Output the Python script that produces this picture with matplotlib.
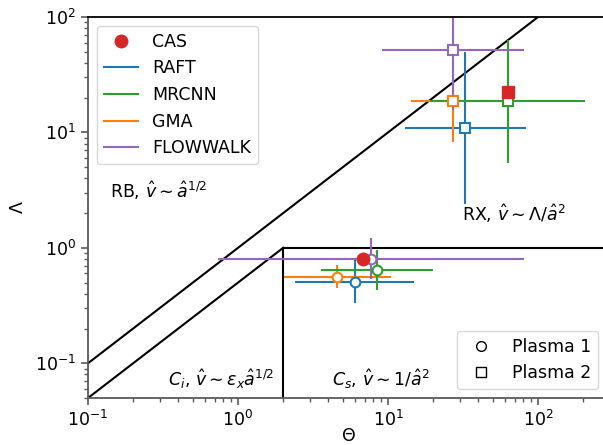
import numpy as np
import matplotlib
matplotlib.use("Agg")
import matplotlib.pyplot as plt
from matplotlib.lines import Line2D

plt.rcParams['font.family'] = ['DejaVu Sans']
plt.rcParams['mathtext.fontset'] = 'dejavusans'
FS = 12.5

models = ["RAFT", "MRCNN", "GMA", "FLOWWALK"]
colors = {"RAFT": "#1f77b4", "MRCNN": "#2ca02c", "GMA": "#ff7f0e", "FLOWWALK": "#9467bd"}

# Plasma 1 (circles): value, lower bound, upper bound
p1_theta    = [6.0, 8.4, 4.57, 7.7]
p1_theta_lo = [2.4, 3.6, 2.03, 0.74]
p1_theta_hi = [14.9, 20.0, 10.5, 80.7]
p1_lam      = [0.51, 0.64, 0.56, 0.80]
p1_lam_lo   = [0.33, 0.43, 0.45, 0.54]
p1_lam_hi   = [0.80, 0.96, 0.71, 1.22]

# Plasma 2 (squares)
p2_theta    = [32.6, 63.0, 27.1, 27.1]
p2_theta_lo = [13.0, 19.0, 14.2, 9.1]
p2_theta_hi = [83.0, 206.0, 51.0, 80.7]
p2_lam      = [11.0, 18.6, 18.6, 51.6]
p2_lam_lo   = [2.4, 5.4, 8.2, 15.5]
p2_lam_hi   = [49.7, 63.0, 42.0, 170.0]

# CAS reference points
cas_theta = [6.8, 63.0]
cas_lam   = [0.80, 22.3]

fig = plt.figure(figsize=(6.03, 4.45), dpi=100)
ax = fig.add_axes([88/603, 47/445, 521.6/603, 381/445])
ax.set_xscale('log')
ax.set_yscale('log')
ax.set_xlim(0.1, 300)
ax.set_ylim(0.05, 100)

# regime boundaries
ax.plot([0.1, 100], [0.1, 100], color='black', lw=1.5, zorder=1)
ax.plot([0.1, 2], [0.05, 1], color='black', lw=1.5, zorder=1)
ax.plot([2, 2], [0.05, 1], color='black', lw=1.5, zorder=1)
ax.plot([2, 300], [1, 1], color='black', lw=1.5, zorder=1)

def draw(theta, tlo, thi, lam, llo, lhi, marker, i):
    t = np.array(theta); l = np.array(lam)
    xerr = [[t[i] - tlo[i]], [thi[i] - t[i]]]
    yerr = [[l[i] - llo[i]], [lhi[i] - l[i]]]
    c = colors[models[i]]
    ax.errorbar([t[i]], [l[i]], xerr=xerr, yerr=yerr, fmt=marker, color=c,
                mfc='white', mec=c, ms=7, mew=1.5, elinewidth=1.5, capsize=0, zorder=2)

for i in [0, 2, 1, 3]:
    draw(p1_theta, p1_theta_lo, p1_theta_hi, p1_lam, p1_lam_lo, p1_lam_hi, 'o', i)
    draw(p2_theta, p2_theta_lo, p2_theta_hi, p2_lam, p2_lam_lo, p2_lam_hi, 's', i)

ax.plot([cas_theta[0]], [cas_lam[0]], 'o', color='#d62728', ms=9, zorder=3)
ax.plot([cas_theta[1]], [cas_lam[1]], 's', color='#d62728', ms=8.5, zorder=3)

# annotations
ax.text(0.14, 3.1, r'RB, $\hat{v} \sim \hat{a}^{1/2}$', fontsize=FS, va='center', ha='left')
ax.text(31, 1.98, r'RX, $\hat{v} \sim \Lambda/\hat{a}^{2}$', fontsize=FS, va='center', ha='left')
ax.text(0.34, 0.073, r'$C_i$, $\hat{v} \sim \epsilon_x\hat{a}^{1/2}$', fontsize=FS, va='center', ha='left')
ax.text(4.2, 0.073, r'$C_s$, $\hat{v} \sim 1/\hat{a}^{2}$', fontsize=FS, va='center', ha='left')

ax.set_xlabel(r'$\Theta$', fontsize=FS, labelpad=-2)
ax.set_ylabel(r'$\Lambda$', fontsize=FS, labelpad=6)

for s in ['left', 'bottom']:
    ax.spines[s].set_color('0.35')
    ax.spines[s].set_linewidth(1.3)
ax.spines['top'].set_color('black')
ax.spines['top'].set_linewidth(1.3)
ax.spines['right'].set_visible(False)
ax.tick_params(which='both', colors='0.35', labelcolor='black', labelsize=FS)
ax.tick_params(which='major', length=5, width=1.2)
ax.tick_params(which='minor', length=3, width=1.0)

h1 = [Line2D([], [], marker='o', ls='none', color='#d62728', ms=9, label='CAS')]
h1 += [Line2D([], [], color=colors[m], lw=1.5, label=m) for m in models]
leg1 = ax.legend(handles=h1, loc='upper left', fontsize=FS, bbox_to_anchor=(0.0, 1.0),
                 borderaxespad=0.5)
ax.add_artist(leg1)

h2 = [Line2D([], [], marker='o', ls='none', mfc='white', mec='black', ms=7, label='Plasma 1'),
      Line2D([], [], marker='s', ls='none', mfc='white', mec='black', ms=7, label='Plasma 2')]
ax.legend(handles=h2, loc='lower right', fontsize=FS, bbox_to_anchor=(519/521.6, 0.0),
          borderaxespad=0.5)

fig.savefig('out.png', dpi=100)
